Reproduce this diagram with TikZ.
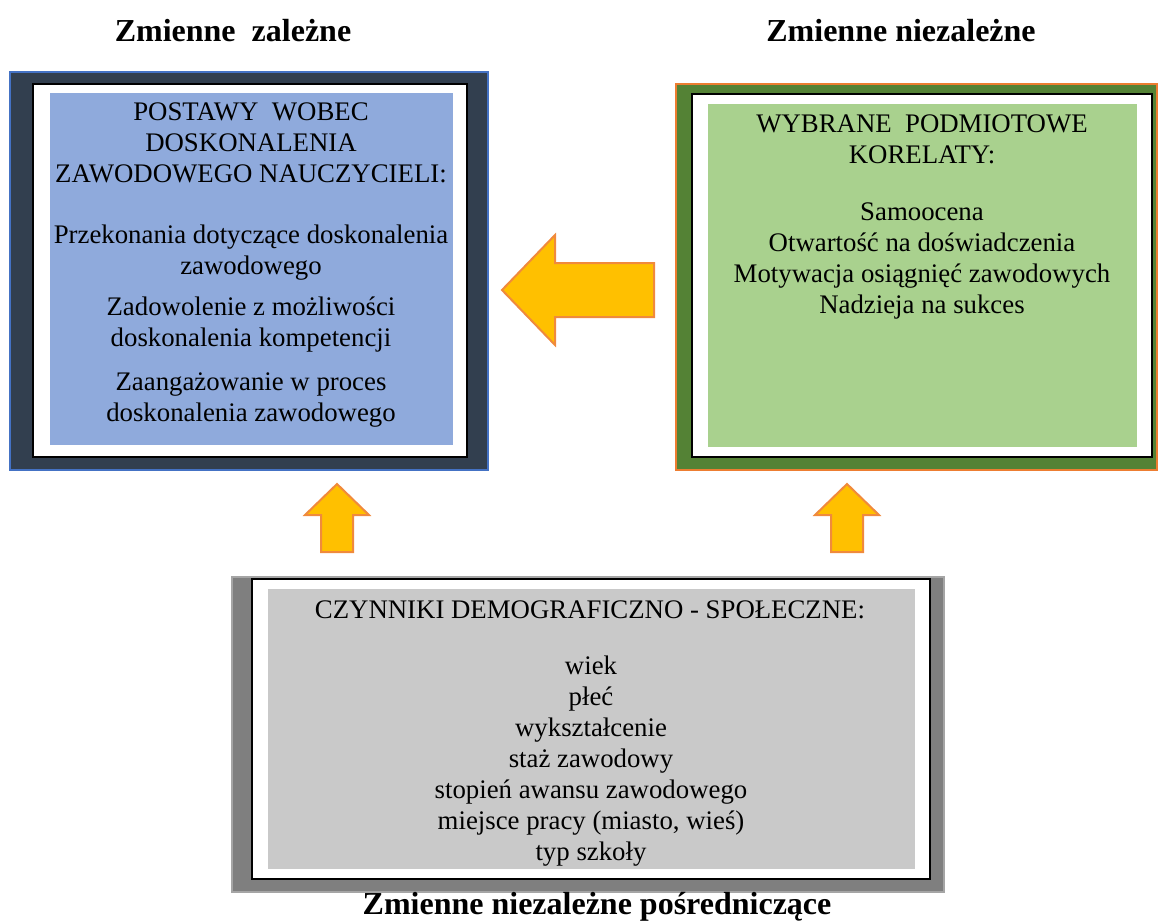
\documentclass[tikz,border=0pt]{standalone}
\usepackage{fontspec}
\setmainfont{Liberation Serif}
\definecolor{darkfill}{HTML}{323F4F}
\definecolor{blueline}{HTML}{4472C4}
\definecolor{bluefill}{HTML}{8FAADC}
\definecolor{orangeline}{HTML}{ED7D31}
\definecolor{greenfill}{HTML}{548235}
\definecolor{lgreen}{HTML}{A9D18E}
\definecolor{grayfill}{HTML}{7F7F7F}
\definecolor{grayline}{HTML}{A5A5A5}
\definecolor{lgray}{HTML}{C9C9C9}
\definecolor{arrowfill}{HTML}{FFC000}
\definecolor{arrowline}{HTML}{F08A3C}
\begin{document}
\begin{tikzpicture}[x=1pt,y=-1pt,
  title/.style={font=\fontsize{32}{37}\selectfont\bfseries, inner sep=0pt},
  body/.style={font=\fontsize{26.8}{31}\selectfont, align=center, inner sep=0pt},
  whitebox/.style={fill=white, draw=black, line width=1.5pt},
  bigarrow/.style={fill=arrowfill, draw=arrowline, line width=2pt, line join=miter}]
\useasboundingbox (0,0) rectangle (1158,921);
% left box
\draw[fill=darkfill, draw=blueline, line width=2pt] (10,72) rectangle (488,470);
\draw[whitebox] (33,84) rectangle (467,457);
\fill[bluefill] (50,93) rectangle (453,445);
% right box
\draw[fill=greenfill, draw=orangeline, line width=2.5pt] (676,84) rectangle (1157,470);
\draw[whitebox] (692,94) rectangle (1152,457);
\fill[lgreen] (708,104) rectangle (1137,447);
% bottom box
\draw[fill=grayfill, draw=grayline, line width=2.5pt] (232,577) rectangle (944,892);
\draw[whitebox] (252,579) rectangle (930,879);
\fill[lgray] (268,589) rectangle (915,869);
% titles
\node[title] (t1) at (233,31) {Zmienne\ \ zależne};
\node[title] (t2) at (901,31) {Zmienne niezależne};
\node[title] (t3) at (597,907) {Zmienne niezależne pośredniczące};
% left texts
\node[body] (l1) at (251,143) {POSTAWY\ \ WOBEC\\DOSKONALENIA\\ZAWODOWEGO NAUCZYCIELI:};
\node[body] (l2) at (251,253) {Przekonania dotyczące doskonalenia\\zawodowego};
\node[body] (l3) at (251,325) {Zadowolenie z możliwości\\doskonalenia kompetencji};
\node[body] (l4) at (251,400) {Zaangażowanie w proces\\doskonalenia zawodowego};
% right texts
\node[body] (r1) at (922,139) {WYBRANE\ \ PODMIOTOWE\\KORELATY:};
\node[body] (r2) at (922,261) {Samoocena\\Otwartość na doświadczenia\\Motywacja osiągnięć zawodowych\\Nadzieja na sukces};
% bottom texts
\node[body] (b1) at (590,610) {CZYNNIKI DEMOGRAFICZNO - SPOŁECZNE:};
\node[body] (b2) at (591,761) {wiek\\płeć\\wykształcenie\\staż zawodowy\\stopień awansu zawodowego\\miejsce pracy (miasto, wieś)\\typ szkoły};
% arrows
\draw[bigarrow] (502,290) -- (555,235) -- (555,263) -- (654,263) -- (654,317) -- (555,317) -- (555,345) -- cycle;
\draw[bigarrow] (337,484) -- (369,515) -- (353,515) -- (353,552) -- (321,552) -- (321,515) -- (305,515) -- cycle;
\draw[bigarrow] (847,484) -- (879,515) -- (863,515) -- (863,552) -- (831,552) -- (831,515) -- (815,515) -- cycle;
\end{tikzpicture}
\end{document}
